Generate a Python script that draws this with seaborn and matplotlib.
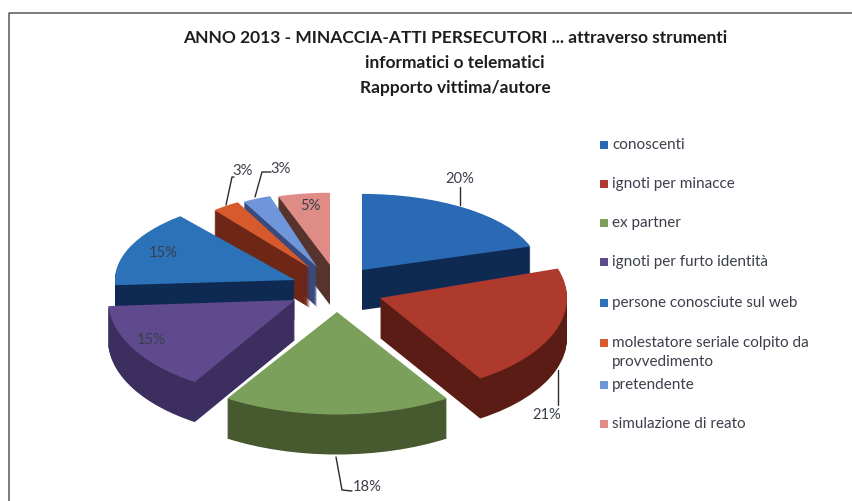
import numpy as np
import matplotlib
matplotlib.use("Agg")
import matplotlib.pyplot as plt
from matplotlib.patches import Rectangle
import seaborn as sns

categories = ["conoscenti", "ignoti per minacce", "ex partner", "ignoti per furto identità",
              "persone conosciute sul web", "molestatore seriale colpito da\nprovvedimento",
              "pretendente", "simulazione di reato"]
values = [20, 21, 18, 15, 15, 3, 3, 5]
top_colors = ["#2A6AB4", "#AE3A2E", "#7BA05B", "#5E4A8C", "#2C72B8", "#D65A2C", "#6F96DA", "#E08C86"]
wall_colors = ["#0F2A52", "#5A1C14", "#46592F", "#3D2E60", "#0F2A52", "#6E2616", "#3B4A7C", "#57332D"]
title_lines = ["ANNO 2013 - MINACCIA-ATTI PERSECUTORI ... attraverso strumenti",
               "informatici o telematici", "Rapporto vittima/autore"]
draw_order = [7, 6, 5, 0, 4, 3, 1, 2]

# layout of the fake 3D: apex pixel, radius and vertical squash for each slice
apex_x = [362, 380, 337, 295, 295, 310, 317, 330]
apex_y = [270, 298, 312, 300, 280, 268, 267, 265]
radii = [177, 187, 205, 187, 180, 150, 152, 168]
squash = [0.43, 0.51, 0.50, 0.52, 0.46, 0.50, 0.49, 0.43]
depth = 40

sns.set_theme(style="white")
plt.rcParams["font.family"] = ["Lato", "DejaVu Sans"]
W, H = 853, 501
fig = plt.figure(figsize=(W / 100, H / 100), dpi=100, facecolor="white")

starts = 90 - 3.6 * np.cumsum([0] + values[:-1])
for i in draw_order:
    ax = fig.add_axes([0, 0, 1, 1], frameon=False, facecolor="none")
    k = squash[i]
    for d in list(range(depth, 0, -1)) + [0]:
        ax.pie([values[i] / 100], normalize=False, colors=[wall_colors[i] if d else top_colors[i]],
               startangle=starts[i], counterclock=False, radius=radii[i],
               center=(apex_x[i], (H - apex_y[i] - d) / k), frame=True, wedgeprops=dict(linewidth=0))
    ax.set_aspect("auto")
    ax.set_xlim(0, W)
    ax.set_ylim(0, H / k)
    ax.axis("off")

# overlay in picture pixels for frame, labels and leaders
ov = fig.add_axes([0, 0, 1, 1], frameon=False, facecolor="none")
ov.set_xlim(0, W); ov.set_ylim(H, 0); ov.axis("off")
ov.plot([9.5, 9.5, W], [H, 12.5, 12.5], color="#55585E", lw=1.1)

for line, y in zip(title_lines, [37.5, 62.5, 87.5]):
    ov.text(455, y, line, ha="center", va="center", fontsize=12.5, fontweight="bold", color="#1E1E22")

lab_col = "#3A3F4A"
pct = [f"{v}%" for v in values]
lab_pos = [(460, 179), (547, 415), (367, 487), (163, 253), (151, 340), (243, 171), (281, 169), (310, 206)]
for t, (x, y) in zip(pct, lab_pos):
    ov.text(x, y, t, ha="center", va="center", fontsize=10.6, color=lab_col)
leaders = [([460, 460], [187, 205]), ([558, 558], [370, 405]),
           ([336, 342, 352], [457, 490, 491]), ([226, 232, 234], [205, 177, 177]),
           ([255, 262, 271], [197, 172, 172])]
for xs, ys in leaders:
    ov.plot(xs, ys, color="#2B2B30", lw=1)

legend_y = [145, 184, 223, 262, 303, 343, 385, 424]
for name, c, y in zip(categories, top_colors, legend_y):
    ov.add_patch(Rectangle((600, y - 4), 8, 8, facecolor=c, edgecolor="none"))
    ov.text(612, y - 7, name, ha="left", va="top", fontsize=11, color=lab_col, linespacing=1.45)
fig.savefig("out.png", dpi=100)
